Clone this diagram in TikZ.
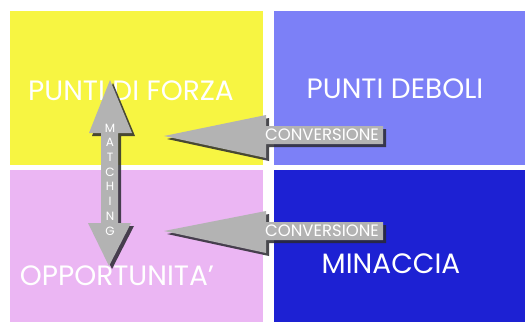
\documentclass[tikz,border=0pt]{standalone}
\usepackage{fontspec}
\setmainfont{Poppins}
\definecolor{qyellow}{HTML}{F7F542}
\definecolor{qlblue}{HTML}{7C80F7}
\definecolor{qpink}{HTML}{EBB6F3}
\definecolor{qdblue}{HTML}{1D21D3}
\definecolor{agray}{HTML}{B3B3B3}
\definecolor{ashadow}{HTML}{2A2A30}
\begin{document}
\begin{tikzpicture}[x=1pt,y=-1pt,
  quad/.style={draw=none,anchor=north west,inner sep=0pt,minimum width=#1},
  qlabel/.style={text=white,font=\fontsize{28}{32}\selectfont,inner sep=0pt},
  clabel/.style={text=white,font=\fontsize{16.5}{20}\selectfont,inner sep=0pt},
  mlabel/.style={text=white,font=\fontsize{12}{14}\selectfont,inner sep=0pt},
  arrowbody/.style={fill=agray,draw=none},
  arrowshadow/.style={fill=ashadow,draw=none,opacity=0.85}]
\useasboundingbox (0,0) rectangle (525,322);
\fill[white] (0,0) rectangle (525,322);
% quadrants
\node[quad=253pt,minimum height=154pt,fill=qyellow] (sq) at (10,11) {};
\node[quad=251pt,minimum height=154pt,fill=qlblue] (wq) at (274,11) {};
\node[quad=253pt,minimum height=152pt,fill=qpink] (oq) at (10,170) {};
\node[quad=251pt,minimum height=152pt,fill=qdblue] (tq) at (274,170) {};
% quadrant labels
\node[qlabel] (s) at (131,91) {PUNTI DI FORZA};
\node[qlabel] (w) at (395,89) {PUNTI DEBOLI};
\node[qlabel] (o) at (117,276) {OPPORTUNITA'};
\node[qlabel] (t) at (391,264) {MINACCIA};
% vertical matching arrow (shadow + body)
\begin{scope}[shift={(3,3)}]
\fill[arrowshadow] (110,80) -- (132,133) -- (118,133) -- (118,223) -- (131,223) -- (109,266)
  -- (88,223) -- (101,223) -- (101,133) -- (89,133) -- cycle;
\end{scope}
\fill[arrowbody] (110,80) -- (132,133) -- (118,133) -- (118,223) -- (131,223) -- (109,266)
  -- (88,223) -- (101,223) -- (101,133) -- (89,133) -- cycle;
\node[mlabel] (m1) at (110,128) {M};
\node[mlabel] (m2) at (110,142.7) {A};
\node[mlabel] (m3) at (110,157.4) {T};
\node[mlabel] (m4) at (110,172.1) {C};
\node[mlabel] (m5) at (110,186.8) {H};
\node[mlabel] (m6) at (110,201.5) {I};
\node[mlabel] (m7) at (110,216.2) {N};
\node[mlabel] (m8) at (110,231) {G};
% upper conversion arrow
\begin{scope}[shift={(3,3)}]
\fill[arrowshadow] (164,136) -- (266,115) -- (266,126) -- (383,126) -- (383,144) -- (266,144) -- (266,158) -- cycle;
\end{scope}
\fill[arrowbody] (164,136) -- (266,115) -- (266,126) -- (383,126) -- (383,144) -- (266,144) -- (266,158) -- cycle;
\node[clabel] (c1) at (322,135) {CONVERSIONE};
% lower conversion arrow
\begin{scope}[shift={(3,3)}]
\fill[arrowshadow] (164,231) -- (266,211) -- (266,222) -- (383,222) -- (383,240) -- (266,240) -- (266,253) -- cycle;
\end{scope}
\fill[arrowbody] (164,231) -- (266,211) -- (266,222) -- (383,222) -- (383,240) -- (266,240) -- (266,253) -- cycle;
\node[clabel] (c2) at (322,231) {CONVERSIONE};
\end{tikzpicture}
\end{document}
